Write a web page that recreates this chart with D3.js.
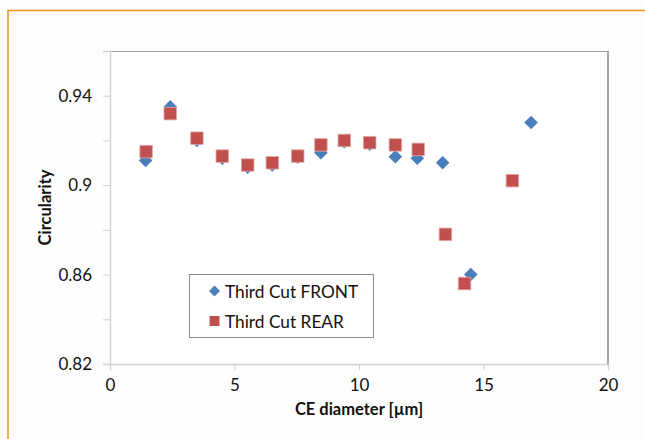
<!DOCTYPE html>
<html>
<head>
<meta charset="utf-8">
<script src="https://cdn.jsdelivr.net/npm/d3@7"></script>
<style>
  html, body { margin: 0; padding: 0; background: #fdfdfd; }
  svg { display: block; }
  text { font-family: Lato, "Open Sans", sans-serif; fill: #111; }
</style>
</head>
<body>
<svg id="chart" width="645" height="439"></svg>
<script>
// CE diameter (µm) and circularity for each cut side
const frontDiameter = [1.43, 2.42, 3.49, 4.51, 5.53, 6.52, 7.54, 8.47, 9.41, 10.43, 11.46, 12.34, 13.36, 14.49, 16.91];
const frontCircularity = [0.911, 0.935, 0.920, 0.912, 0.908, 0.909, 0.9125, 0.9145, 0.9194, 0.9183, 0.9127, 0.912, 0.910, 0.860, 0.928];
const rearDiameter = [1.45, 2.42, 3.49, 4.51, 5.53, 6.52, 7.54, 8.47, 9.41, 10.43, 11.46, 12.38, 13.47, 14.24, 16.16];
const rearCircularity = [0.915, 0.932, 0.921, 0.913, 0.909, 0.910, 0.913, 0.918, 0.920, 0.919, 0.918, 0.916, 0.878, 0.856, 0.902];

const seriesNames = ["Third Cut FRONT", "Third Cut REAR"];
const xTicks = [0, 5, 10, 15, 20];
const yTicks = [0.82, 0.84, 0.86, 0.88, 0.90, 0.92, 0.94, 0.96];
const yLabelTicks = [0.82, 0.86, 0.9, 0.94];

const svg = d3.select("#chart");
const W = 645, H = 439;
const plot = { left: 110, right: 608, top: 51, bottom: 364 };

// outer frame
svg.append("path")
  .attr("d", `M8,${H + 2} L8,10.5 L${W + 2},10.5`)
  .attr("fill", "none")
  .attr("stroke", "#f7941d")
  .attr("stroke-width", 1.6);

const x = d3.scaleLinear().domain([0, 20]).range([plot.left, plot.right]);
const y = d3.scaleLinear().domain([0.82, 0.96]).range([plot.bottom, plot.top]);

// plot area
svg.append("rect")
  .attr("x", plot.left).attr("y", plot.top)
  .attr("width", plot.right - plot.left).attr("height", plot.bottom - plot.top)
  .attr("fill", "#ffffff");
svg.append("line")
  .attr("x1", plot.left - 3).attr("x2", plot.right)
  .attr("y1", plot.top + 0.5).attr("y2", plot.top + 0.5)
  .attr("stroke", "#a6a6a6").attr("stroke-width", 1.2);
svg.append("line")
  .attr("x1", plot.right).attr("x2", plot.right)
  .attr("y1", plot.top).attr("y2", plot.bottom)
  .attr("stroke", "#7f7f7f").attr("stroke-width", 1.4);

// y axis
const yAxis = d3.axisLeft(y).tickValues(yTicks).tickSize(7)
  .tickFormat(d => yLabelTicks.some(v => Math.abs(v - d) < 1e-9) ? d3.format("")(+d.toFixed(2)) : "");
const gy = svg.append("g").attr("transform", `translate(${plot.left},0)`).call(yAxis);
gy.select(".domain").attr("stroke", "#d0d0d0").attr("stroke-width", 1.3);
gy.selectAll(".tick line").attr("stroke", "#d0d0d0");
gy.selectAll(".tick text")
  .attr("x", -18)
  .style("font-size", "17px")
  .style("fill", "#111");

// x axis
const xAxis = d3.axisBottom(x).tickValues(xTicks).tickSize(6).tickFormat(d3.format("d"));
const gx = svg.append("g").attr("transform", `translate(0,${plot.bottom})`).call(xAxis);
gx.select(".domain").attr("stroke", "#d0d0d0").attr("stroke-width", 1.3);
gx.selectAll(".tick line").attr("stroke", "#d0d0d0");
gx.selectAll(".tick text")
  .attr("y", 15)
  .style("font-size", "17px")
  .style("fill", "#111");

// axis titles
svg.append("text")
  .attr("transform", `translate(47,${(plot.top + plot.bottom) / 2}) rotate(-90)`)
  .attr("text-anchor", "middle")
  .attr("dominant-baseline", "middle")
  .style("font-size", "16.5px")
  .style("font-weight", "bold")
  .text("Circularity");
svg.append("text")
  .attr("x", (plot.left + plot.right) / 2)
  .attr("y", 415)
  .attr("text-anchor", "middle")
  .style("font-size", "16.5px")
  .style("font-weight", "bold")
  .text("CE diameter [µm]");

// marker shapes
const diamond = r => `M0,${-r} L${r},0 L0,${r} L${-r},0 Z`;
const square = s => `M${-s / 2},${-s / 2} h${s} v${s} h${-s} Z`;

const front = frontDiameter.map((d, i) => ({ d, c: frontCircularity[i] }));
const rear = rearDiameter.map((d, i) => ({ d, c: rearCircularity[i] }));

svg.append("g").selectAll("path").data(front).join("path")
  .attr("transform", p => `translate(${x(p.d)},${y(p.c)})`)
  .attr("d", diamond(6.8))
  .attr("fill", "#4a7ebb");

svg.append("g").selectAll("path").data(rear).join("path")
  .attr("transform", p => `translate(${x(p.d)},${y(p.c)})`)
  .attr("d", square(12.5))
  .attr("fill", "#c0504d")
  .attr("stroke", "#e3a4a2")
  .attr("stroke-width", 0.8);

// legend
const lg = svg.append("g");
lg.append("rect")
  .attr("x", 189.5).attr("y", 274.5)
  .attr("width", 184).attr("height", 63)
  .attr("fill", "#ffffff")
  .attr("stroke", "#8c8c8c").attr("stroke-width", 1);
lg.append("path").attr("transform", "translate(214.5,291)").attr("d", diamond(5.5)).attr("fill", "#4a7ebb");
lg.append("path").attr("transform", "translate(214.5,321)").attr("d", square(10)).attr("fill", "#c0504d");
lg.selectAll("text.lbl").data(seriesNames).join("text")
  .attr("class", "lbl")
  .attr("x", 225)
  .attr("y", (d, i) => 291 + i * 30)
  .attr("dominant-baseline", "central")
  .style("font-size", "17.3px")
  .text(d => d);
</script>
</body>
</html>
